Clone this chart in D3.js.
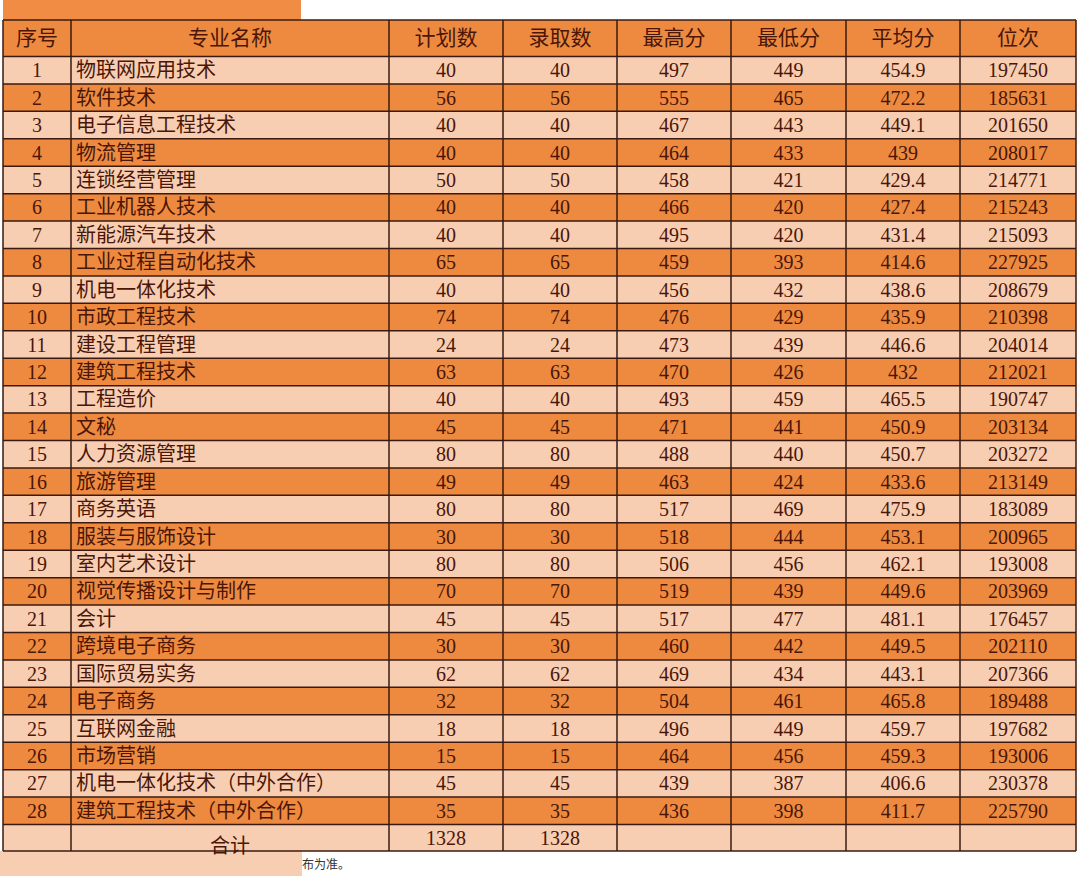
<!DOCTYPE html><html><head><meta charset="utf-8"><script src="https://cdn.jsdelivr.net/npm/d3@7"></script>
<style>body{margin:0;background:#fff}</style></head><body><svg id="c" width="1080" height="876"></svg>
<script>
const headers=["序号","专业名称","计划数","录取数","最高分","最低分","平均分","位次"];
const majors=["物联网应用技术","软件技术","电子信息工程技术","物流管理","连锁经营管理","工业机器人技术","新能源汽车技术","工业过程自动化技术","机电一体化技术","市政工程技术","建设工程管理","建筑工程技术","工程造价","文秘","人力资源管理","旅游管理","商务英语","服装与服饰设计","室内艺术设计","视觉传播设计与制作","会计","跨境电子商务","国际贸易实务","电子商务","互联网金融","市场营销","机电一体化技术（中外合作）","建筑工程技术（中外合作）"];
const plan=[40,56,40,40,50,40,40,65,40,74,24,63,40,45,80,49,80,30,80,70,45,30,62,32,18,15,45,35];
const admitted=[40,56,40,40,50,40,40,65,40,74,24,63,40,45,80,49,80,30,80,70,45,30,62,32,18,15,45,35];
const maxScore=[497,555,467,464,458,466,495,459,456,476,473,470,493,471,488,463,517,518,506,519,517,460,469,504,496,464,439,436];
const minScore=[449,465,443,433,421,420,420,393,432,429,439,426,459,441,440,424,469,444,456,439,477,442,434,461,449,456,387,398];
const avgScore=["454.9","472.2","449.1","439","429.4","427.4","431.4","414.6","438.6","435.9","446.6","432","465.5","450.9","450.7","433.6","475.9","453.1","462.1","449.6","481.1","449.5","443.1","465.8","459.7","459.3","406.6","411.7"];
const rank=[197450,185631,201650,208017,214771,215243,215093,227925,208679,210398,204014,212021,190747,203134,203272,213149,183089,200965,193008,203969,176457,202110,207366,189488,197682,193006,230378,225790];
const totalLabel="合计", totalPlan=1328, totalAdmitted=1328;

const svg=d3.select("#c");
const colEdges=[3,71,389,503,617,731,846,960,1076];
const rowsKeys=["h",...d3.range(28),"t"];
const y=d3.scaleBand().domain(rowsKeys).range([56-35.5+0,0]).paddingInner(0);
// custom: header 20-56, data rows 56-824.5, total 824.5-851
const yRow=d3.scaleBand().domain(d3.range(28)).range([56.5,824.5]);
const rows=[{k:"h",y0:20,y1:56.5,fill:"#ee8a3f",cells:headers,hdr:true}];
d3.range(28).forEach(i=>rows.push({k:i,y0:yRow(i),y1:yRow(i)+yRow.bandwidth(),fill:i%2?"#ee8a3f":"#f8ceb2",
 cells:[i+1,majors[i],plan[i],admitted[i],maxScore[i],minScore[i],avgScore[i],rank[i]]}));
rows.push({k:"t",y0:824.5,y1:851,fill:"#f8ceb2",cells:["","",totalPlan,totalAdmitted,"","","",""],total:true});

// top and bottom decorations
svg.append("rect").attr("x",3).attr("y",0).attr("width",298).attr("height",20).attr("fill","#f08c44");
svg.append("rect").attr("x",0).attr("y",851).attr("width",302).attr("height",25).attr("fill","#f8ceb2");
svg.append("text").attr("x",302).attr("y",869).attr("font-size",12).attr("fill","#333").attr("font-family","Noto Sans CJK SC").text("布为准。");

const g=svg.selectAll("g.r").data(rows).join("g");
g.append("rect").attr("x",colEdges[0]).attr("width",colEdges[8]-colEdges[0]).attr("y",d=>d.y0).attr("height",d=>d.y1-d.y0).attr("fill",d=>d.fill);
const font="'Liberation Serif','Noto Sans CJK SC',serif";
g.each(function(d){
  const s=d3.select(this);
  d.cells.forEach((v,j)=>{
    const left=j===1&&!d.hdr;
    s.append("text").attr("x",left?colEdges[1]+5:(colEdges[j]+colEdges[j+1])/2)
     .attr("y",(d.y0+d.y1)/2+7).attr("text-anchor",left?"start":"middle")
     .attr("font-family",font).attr("font-size",d.hdr?21:20).attr("fill","#4a1608").text(v);
  });
  if(d.total) s.append("text").attr("x",(colEdges[1]+colEdges[2])/2).attr("y",(d.y0+d.y1)/2+7+8).attr("text-anchor","middle").attr("font-family",font).attr("font-size",20).attr("fill","#4a1608").text(totalLabel);
});
// grid
const lineC="#3a1a10";
rows.forEach(d=>svg.append("line").attr("x1",3).attr("x2",1076).attr("y1",d.y0).attr("y2",d.y0).attr("stroke",lineC).attr("stroke-width",1.5));
svg.append("line").attr("x1",3).attr("x2",1076).attr("y1",851).attr("y2",851).attr("stroke",lineC).attr("stroke-width",1.5);
colEdges.forEach(x=>svg.append("line").attr("x1",x).attr("x2",x).attr("y1",20).attr("y2",851).attr("stroke",lineC).attr("stroke-width",1.5));
</script></body></html>
